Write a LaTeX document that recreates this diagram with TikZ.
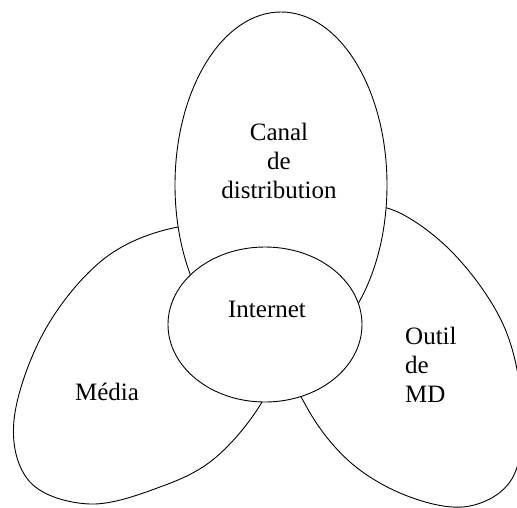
\documentclass[tikz,border=0pt]{standalone}
\usepackage{fontspec}
\usetikzlibrary{shapes.geometric}
\setmainfont{Liberation Serif}
\begin{document}
\begin{tikzpicture}[x=1pt,y=-1pt,
  outline/.style={draw=black,line width=0.9pt,fill=white},
  lbl/.style={font=\fontsize{25}{29}\selectfont,inner sep=0pt,align=center}]
\useasboundingbox (0,0) rectangle (517,507);
% left lobe (Media)
\draw[outline] plot[smooth cycle,tension=0.6] coordinates {(178,227) (105,258) (45,330) (14,420) (30,482) (90,504) (160,487) (215,458) (262,402) (285,340) (240,232)};
% right lobe (Outil de MD)
\draw[outline] plot[smooth cycle,tension=0.6] coordinates {(387,208) (450,250) (502,322) (521,400) (514,475) (470,506) (410,497) (350,462) (305,404) (280,330) (340,220)};
% top ellipse
\node[outline,ellipse,minimum width=212pt,minimum height=346pt,inner sep=0pt] (canal) at (281,185) {};
\node[outline,ellipse,minimum width=194pt,minimum height=155pt,inner sep=0pt] (inet) at (265,324.5) {};
\node[lbl] (tcanal) at (279,161) {Canal\\de\\distribution};
\node[lbl] (tinet) at (267,309) {Internet};
\node[lbl] (tmedia) at (107,392) {Média};
\node[lbl,align=left,anchor=west] (toutil) at (405,365) {Outil\\de\\MD};
\end{tikzpicture}
\end{document}
